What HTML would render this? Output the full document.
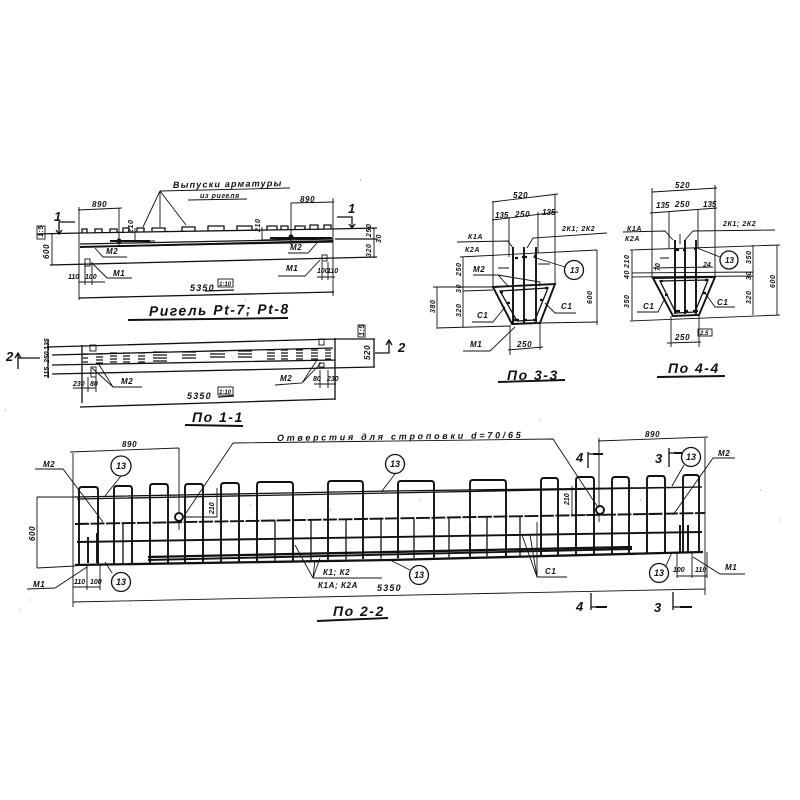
<!DOCTYPE html>
<html><head><meta charset="utf-8"><style>
html,body{margin:0;padding:0;background:#fff}
svg{display:block;filter:blur(.3px)}
text{font-family:"Liberation Sans",sans-serif;font-style:italic;font-weight:bold;fill:#111;font-size:8px;letter-spacing:.6px}
.l{font-size:9px;letter-spacing:1.2px}
.h{font-size:14px;letter-spacing:1.5px}
.s{font-size:13px;font-style:italic}
path,line,rect,circle{fill:none;stroke:#111}
.n{stroke-width:.9}.m{stroke-width:1.3}.k{stroke-width:1.9}.k2{stroke-width:2.3}
</style></head><body>
<svg width="800" height="800" viewBox="0 0 800 800" xmlns="http://www.w3.org/2000/svg">
<rect x="0" y="0" width="800" height="800" style="fill:#fff;stroke:none"/>

<!-- ===== Elevation ===== -->
<path class="m" d="M37 234L80 233L332 229L377 228M50 265L377 257M80 244L333 239M335 239L377 239M80 247L333 242"/>
<path class="k" d="M80 247L333 241M110 241L150 241M270 238L332 238"/>
<path class="n" d="M79 207V300M333 198V296M119 208V247M291 203V245M78 210L122 208M291 203L334 202M52 233V265M374 228V258M135 228V242M262 227V240M262 240L292 239M135 241L155 241"/>
<path class="m" d="M82 233V229H87V233M95 233V229H102V232M110 232V229H117V232M123 232V228H129V232M137 232V228H144V232M152 231V228H165V231M182 231V227H195V231M208 231V226H224V231M237 230V226H252V230M267 230V226H277V230M281 230V226H288V230M295 230V226H305V230M310 230V225H318V230M324 229V225H331V229"/>
<path class="n" d="M160 191L290 188M188 200L247 199M160 191L143 227M160 191L160 227M160 191L186 225"/>
<path class="n" d="M95 248L103 257L127 257M317 243L308 253L288 253M92 263L107 278L132 278M320 260L305 276L278 276M79 282H105M85 262V285M92 262V285M317 277H335M322 262V280M328 262V280"/>
<rect class="n" x="85" y="259" width="5" height="7"/><rect class="n" x="322" y="255" width="5" height="6"/>
<path class="m" d="M79 298L334 292M205 291L234 290"/>
<circle style="fill:#111" cx="119" cy="241" r="2"/><circle style="fill:#111" cx="291" cy="237" r="2"/>
<path class="m" d="M75 222H59V234M56 230L59 234L62 230M337 217H352V228M349 224L352 228L355 224"/>
<rect class="n" x="37" y="226" width="8" height="13"/><rect class="n" x="218" y="279" width="15" height="8"/>
<text x="173" y="188" class="l" transform="rotate(-1 173 188)">Выпуски арматуры</text>
<text x="200" y="198" style="font-size:7px">из ригеля</text>
<text x="92" y="207">890</text><text x="300" y="202">890</text>
<text x="54" y="221" class="s">1</text><text x="348" y="213" class="s">1</text>
<text transform="translate(43 237) rotate(-90)" style="font-size:7px">1:5</text>
<text transform="translate(49 259) rotate(-90)">600</text>
<text transform="translate(133 233) rotate(-90)" style="font-size:7px">210</text>
<text transform="translate(260 232) rotate(-90)" style="font-size:7px">210</text>
<text transform="translate(371 237) rotate(-90)" style="font-size:7px">250</text>
<text transform="translate(381 243) rotate(-90)" style="font-size:7px">30</text>
<text transform="translate(371 257) rotate(-90)" style="font-size:7px">320</text>
<text x="106" y="254">М2</text><text x="290" y="250">М2</text><text x="113" y="276">М1</text><text x="286" y="271">М1</text>
<text x="68" y="279" style="font-size:7px;letter-spacing:0">110</text><text x="85" y="279" style="font-size:7px;letter-spacing:0">100</text>
<text x="317" y="273" style="font-size:7px;letter-spacing:0">100</text><text x="327" y="273" style="font-size:7px;letter-spacing:0">110</text>
<text x="190" y="291" class="l">5350</text><text x="219" y="286" style="font-size:6px;letter-spacing:0">1:10</text>
<text x="149" y="316" class="h" transform="rotate(-1 149 316)">Ригель Рt-7; Рt-8</text>
<path class="k" d="M128 320L288 318"/>

<!-- ===== По 1-1 ===== -->
<path class="m" d="M47 347L335 339L375 339M52 355L333 348M52 365L335 360M52 374L375 367M82 345V403M335 338V400M48 340V378M374 339V367"/>
<path d="M83 354H88M83 358H88M83 362H88M96 354H103M96 357H103M96 360H103M96 363H103M110 353H117M110 356H117M110 359H117M110 362H117M123 353H130M123 356H130M123 359H130M123 362H130M138 353H145M138 356H145M138 359H145M138 362H145M153 352H167M153 355H167M153 358H167M153 361H167M182 352H196M182 355H196M182 358H196M210 351H225M210 354H225M210 357H225M238 351H252M238 354H252M238 357H252M267 350H275M267 353H275M267 356H275M267 359H275M281 350H288M281 353H288M281 356H288M281 359H288M296 350H303M296 353H303M296 356H303M296 359H303M311 350H318M311 353H318M311 356H318M311 359H318M325 350H331M325 353H331M325 356H331M325 359H331" style="stroke-width:1.3"/>
<rect class="n" x="90" y="345" width="6" height="6"/><rect class="n" x="319" y="339" width="5" height="6"/><rect class="n" x="91" y="367" width="5" height="10"/><rect class="n" x="319" y="363" width="5" height="4"/>
<path class="n" d="M98 363L113 387H142M92 368L113 387M275 385L302 383L317 360M302 383L321 363M73 388H96M88 377V392M96 377V392M314 384H336M320 370V388M328 370V388"/>
<path class="m" d="M80 407L335 399M218 397L234 396"/>
<rect class="n" x="358" y="325" width="7" height="12"/><rect class="n" x="218" y="387" width="15" height="8"/>
<path class="m" d="M18 369V354M15 358L18 353L21 358M18 358H40M375 353H389V340M386 345L389 340L392 345"/>
<text x="6" y="361" class="s">2</text><text x="398" y="352" class="s">2</text>
<text transform="translate(49 350) rotate(-90)" style="font-size:7px;letter-spacing:0">135</text>
<text transform="translate(49 363) rotate(-90)" style="font-size:7px;letter-spacing:0">250</text>
<text transform="translate(49 378) rotate(-90)" style="font-size:7px;letter-spacing:0">115</text>
<text transform="translate(370 360) rotate(-90)">520</text>
<text transform="translate(364 336) rotate(-90)" style="font-size:7px">1:5</text>
<text x="121" y="384">М2</text><text x="280" y="381">М2</text>
<text x="73" y="386" style="font-size:7px;letter-spacing:0">230</text><text x="90" y="386" style="font-size:7px;letter-spacing:0">80</text>
<text x="313" y="381" style="font-size:7px;letter-spacing:0">80</text><text x="327" y="381" style="font-size:7px;letter-spacing:0">230</text>
<text x="187" y="399" class="l">5350</text><text x="219" y="394" style="font-size:6px;letter-spacing:0">1:10</text>
<text x="192" y="422" class="h">По 1-1</text>
<path class="k" d="M185 425L243 426"/>

<!-- ===== По 3-3 ===== -->
<path class="n" d="M492 202L558 194M493 202V287M555 194V285M509 217V257M538 212V253M492 220L558 212M457 242L508 241L513 248M607 233L533 238L527 248M460 257L597 250M597 250V325M463 257V327M437 287V327M433 287H493M436 328L510 326M540 323L598 322M463 291L493 290M473 275H498L509 287M498 275L540 282V286M472 322H493L505 307M576 313H555L545 303M463 351H490L515 327M508 350L543 347M510 325V355M540 323V350M498 268H509M550 264H538M565 267L533 257"/>
<path class="k" d="M493 287L555 284L540 323L512 324ZM513 247V323M524 247V323M536 247V322"/>
<path class="m" d="M500 291L548 288L535 320L517 321Z"/>
<path class="k2" d="M515 258H518M522 257H527M534 256H537M514 320H519M523 320H527M533 320H537M500 292H503M545 288H548M507 303H510M540 300H543"/>
<circle class="m" cx="574" cy="270" r="9.5" style="fill:#fff"/>
<text x="570" y="273" style="font-size:8px;letter-spacing:0">13</text>
<text x="513" y="198">520</text><text x="495" y="218" style="letter-spacing:0">135</text><text x="515" y="217">250</text><text x="542" y="215" style="letter-spacing:0">135</text>
<text x="468" y="239" style="font-size:7px">К1А</text><text x="465" y="252" style="font-size:7px">К2А</text>
<text x="562" y="231" style="font-size:7px">2К1; 2К2</text>
<text x="473" y="272">М2</text><text x="477" y="318">С1</text><text x="561" y="309">С1</text><text x="470" y="347">М1</text><text x="517" y="347">250</text>
<text transform="translate(461 276) rotate(-90)" style="font-size:7px">250</text>
<text transform="translate(461 293) rotate(-90)" style="font-size:7px">30</text>
<text transform="translate(461 317) rotate(-90)" style="font-size:7px">320</text>
<text transform="translate(435 313) rotate(-90)" style="font-size:7px">380</text>
<text transform="translate(592 304) rotate(-90)" style="font-size:7px">600</text>
<text x="507" y="380" class="h">По 3-3</text>
<path class="k" d="M498 382L565 380"/>

<!-- ===== По 4-4 ===== -->
<path class="n" d="M652 192L717 188M652 188V278M715 185V277M669 212V248M698 210V248M650 213L717 208M623 232L665 231L673 240M775 230L693 231L685 240M630 250L780 245M777 245V315M753 245V315M632 250V320M653 268L713 267M632 273L753 272M632 277L753 276M637 312H658L665 298M735 307H715L705 293M630 321L780 315M667 343L701 342M671 316V347M699 315V347M660 258H669M720 257L697 248M680 234V244"/>
<path class="k" d="M653 278L715 277L699 315L673 316ZM675 240V314M685 240V314M696 240V314"/>
<path class="m" d="M660 281L708 280L695 312L676 313Z"/>
<path class="k2" d="M676 250H679M683 250H686M694 249H697M675 311H680M684 311H688M693 311H698M660 281H663M705 280H708M665 295H668M703 293H706"/>
<circle class="m" cx="729" cy="260" r="9" style="fill:#fff"/>
<rect class="n" x="698" y="329" width="14" height="7"/>
<text x="725" y="263" style="font-size:8px;letter-spacing:0">13</text>
<text x="675" y="188">520</text><text x="656" y="208" style="letter-spacing:0">135</text><text x="675" y="207">250</text><text x="703" y="207" style="letter-spacing:0">135</text>
<text x="627" y="231" style="font-size:7px">К1А</text><text x="625" y="241" style="font-size:7px">К2А</text>
<text x="723" y="226" style="font-size:7px">2К1; 2К2</text>
<text x="643" y="309">С1</text><text x="717" y="305">С1</text><text x="675" y="340">250</text>
<text x="700" y="335" style="font-size:6px;letter-spacing:0">2.5</text>
<text x="703" y="267" style="font-size:7px;letter-spacing:0">24</text>
<text transform="translate(660 271) rotate(-90)" style="font-size:7px;letter-spacing:0">70</text>
<text transform="translate(629 268) rotate(-90)" style="font-size:7px">210</text>
<text transform="translate(629 279) rotate(-90)" style="font-size:7px">40</text>
<text transform="translate(629 308) rotate(-90)" style="font-size:7px">350</text>
<text transform="translate(751 264) rotate(-90)" style="font-size:7px">350</text>
<text transform="translate(751 280) rotate(-90)" style="font-size:7px">30</text>
<text transform="translate(751 304) rotate(-90)" style="font-size:7px">320</text>
<text transform="translate(775 288) rotate(-90)" style="font-size:7px">600</text>
<text x="668" y="373" class="h">По 4-4</text>
<path class="k" d="M657 377L725 376"/>

<!-- ===== По 2-2 ===== -->
<path class="n" d="M73 453V607M705 438V595M70 452L179 448M179 448V530M598 441L708 437M599 438V522M37 497V568M37 497H75M37 568L75 566M233 443L553 439M233 443L186 513M553 439L597 506M73 602L705 589"/>
<path class="m" d="M75 497L390 491L702 487M77 499L390 493L702 487"/>
<path class="k" d="M75 524L705 513" style="stroke-dasharray:14 1.5"/>
<path class="k" d="M77 542L702 532"/>
<path class="k2" d="M75 565L390 560L703 552M148 557L632 547"/>
<path class="k" d="M148 560L632 549"/>
<!-- stirrups -->
<path class="k" d="M79 565V490Q79 487 82 487H95Q98 487 98 490V564.5M114 564V489Q114 486 117 486H129Q132 486 132 489V563.8M150 563.4V487Q150 484 153 484H165Q168 484 168 487V563M185 562.7V487Q185 484 188 484H200Q203 484 203 487V562.3M221 562V486Q221 483 224 483H236Q239 483 239 486V561.6M257 561.2V485Q257 482 260 482H290Q293 482 293 485V560.5M328 559.8V484Q328 481 331 481H360Q363 481 363 484V559M398 558.3V484Q398 481 401 481H431Q434 481 434 484V557.6M470 556.8V483Q470 480 473 480H503Q506 480 506 483V556M541 555.4V481Q541 478 544 478H555Q558 478 558 481V555M576 554.6V480Q576 477 579 477H591Q594 477 594 480V554.3M612 553.9V480Q612 477 615 477H626Q629 477 629 480V553.5M647 553.2V479Q647 476 650 476H662Q665 476 665 479V552.8M683 552.4V478Q683 475 686 475H696Q699 475 699 478V552"/>
<!-- mid verticals -->
<path class="m" d="M123 523V564M275 520.5V561M311 520V560.2M346 519V559.4M381 518.6V558.6M414 518V558M449 517.4V557.2M487 516.8V556.4M520 516V555.7"/>
<path class="k" d="M88 537V563M97 533V563M680 525V553M688 525V553"/>
<circle class="k" cx="179" cy="517" r="4" style="fill:#fff"/><circle class="k" cx="600" cy="510" r="4" style="fill:#fff"/>
<path class="n" d="M217 488V517M185 517H217M572 486V515M572 515H606M35 469H63L103 522M27 589L55 588L87 567M73 587H100M87 565V590M100 565V590M677 576H707M677 553V578M692 553V578M707 552V578M735 458H713L673 515M745 574H720L693 557"/>
<path class="n" d="M313 578H382M313 578L295 545M313 578L315 560M313 578L320 558M567 577H537L522 535M537 577L530 535M537 577L537 522"/>
<path class="m" d="M669 448V467M669 453H682M588 452V468M588 454H603M591 593V610M591 607H607M673 592V610M673 607H692"/>
<path class="k" d="M674 453H682M593 454H603M596 607H607M680 607H692"/>
<path class="n" d="M121 476L105 496M112 573L105 562M395 474L382 491M410 570L390 560M666 566L672 552M684 465L672 486"/>
<circle class="m" cx="121" cy="466" r="10" style="fill:#fff"/><circle class="m" cx="121" cy="582" r="9.5" style="fill:#fff"/>
<circle class="m" cx="395" cy="464" r="9.5" style="fill:#fff"/><circle class="m" cx="419" cy="575" r="9.5" style="fill:#fff"/>
<circle class="m" cx="659" cy="573" r="9.5" style="fill:#fff"/><circle class="m" cx="691" cy="457" r="9.5" style="fill:#fff"/>
<text x="116" y="469" style="font-size:9px;letter-spacing:0">13</text><text x="116" y="585" style="font-size:9px;letter-spacing:0">13</text>
<text x="390" y="467" style="font-size:9px;letter-spacing:0">13</text><text x="414" y="578" style="font-size:9px;letter-spacing:0">13</text>
<text x="654" y="576" style="font-size:9px;letter-spacing:0">13</text><text x="686" y="460" style="font-size:9px;letter-spacing:0">13</text>
<text x="277" y="441" class="l" textLength="245" lengthAdjust="spacing" transform="rotate(-.7 277 441)">Отверстия для строповки d=70/65</text>
<text x="122" y="447">890</text><text x="645" y="437">890</text>
<text x="43" y="467">М2</text><text x="718" y="456">М2</text><text x="33" y="587">М1</text><text x="725" y="570">М1</text>
<text transform="translate(35 541) rotate(-90)">600</text>
<text transform="translate(214 514) rotate(-90)" style="font-size:7px;letter-spacing:0">210</text>
<text transform="translate(569 505) rotate(-90)" style="font-size:7px;letter-spacing:0">210</text>
<text x="74" y="584" style="font-size:7px;letter-spacing:0">110</text><text x="90" y="584" style="font-size:7px;letter-spacing:0">100</text>
<text x="673" y="572" style="font-size:7px;letter-spacing:0">100</text><text x="695" y="572" style="font-size:7px;letter-spacing:0">110</text>
<text x="323" y="575">К1; К2</text><text x="318" y="588">К1А; К2А</text>
<text x="377" y="591" class="l">5350</text>
<text x="545" y="574">С1</text>
<text x="333" y="616" class="h">По 2-2</text>
<path class="k" d="M317 621L388 618"/>
<text x="576" y="462" class="s">4</text><text x="655" y="463" class="s">3</text><text x="576" y="611" class="s">4</text><text x="654" y="612" class="s">3</text>

<!-- specks -->
<path style="stroke:#999;stroke-width:1" d="M5 410h1M30 600h1M230 385h1M130 605h1M540 420h1M760 490h1M780 520h1M250 505h1M330 510h1M470 520h1M420 500h1M20 610h1M360 180h1M245 300h1M640 500h1"/>
</svg>
</body></html>
